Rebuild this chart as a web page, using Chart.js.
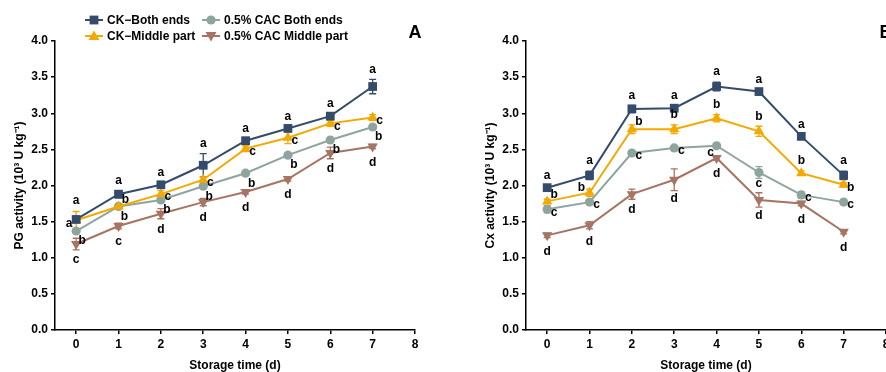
<!DOCTYPE html>
<html>
<head>
<meta charset="utf-8">
<script src="https://cdn.jsdelivr.net/npm/chart.js@4/dist/chart.umd.min.js"></script>
<style>
  html, body { margin: 0; padding: 0; background: #fff; overflow: hidden; }
  #wrap { position: relative; width: 886px; height: 372px; overflow: hidden; }
  canvas { position: absolute; top: 0; }
  #pgChart { left: 0; }
  #cxChart { left: 471px; }
</style>
</head>
<body>
<div id="wrap">
  <canvas id="pgChart" width="471" height="372"></canvas>
  <canvas id="cxChart" width="471" height="372"></canvas>
</div>
<script>
// storage days and axis ticks
const days = [0, 1, 2, 3, 4, 5, 6, 7];
const xTicks = [0, 1, 2, 3, 4, 5, 6, 7, 8];
const yTicks = [0, 0.5, 1, 1.5, 2, 2.5, 3, 3.5, 4];
const seriesNames = ['CK\u2212Both ends', 'CK\u2212Middle part', '0.5% CAC Both ends', '0.5% CAC Middle part'];

// A: PG activity
const pgCkBoth   = [1.53, 1.88, 2.01, 2.28, 2.62, 2.79, 2.96, 3.37];
const pgCkMid    = [1.52, 1.71, 1.88, 2.08, 2.51, 2.66, 2.86, 2.94];
const pgCacBoth  = [1.37, 1.71, 1.80, 1.99, 2.17, 2.42, 2.63, 2.81];
const pgCacMid   = [1.19, 1.44, 1.61, 1.77, 1.91, 2.09, 2.45, 2.54];
const pgErrCkBoth  = [0.04, 0.05, 0.03, 0.16, 0.03, 0.03, 0.03, 0.10];
const pgErrCkMid   = [0.12, 0.04, 0.05, 0.04, 0.04, 0.08, 0.04, 0.04];
const pgErrCacBoth = [0.03, 0.03, 0.03, 0.03, 0.02, 0.03, 0.02, 0.02];
const pgErrCacMid  = [0.08, 0.04, 0.07, 0.05, 0.03, 0.03, 0.08, 0.03];
const pgLetCkBoth  = ['a', 'a', 'a', 'a', 'a', 'a', 'a', 'a'];
const pgLetCkMid   = ['a', 'b', 'c', 'c', 'c', 'c', 'c', 'c'];
const pgLetCacBoth = ['b', 'b', 'b', 'b', 'b', 'b', 'b', 'b'];
const pgLetCacMid  = ['c', 'c', 'd', 'd', 'd', 'd', 'd', 'd'];

// B: Cx activity
const cxCkBoth   = [1.97, 2.14, 3.06, 3.07, 3.37, 3.30, 2.68, 2.14];
const cxCkMid    = [1.78, 1.90, 2.78, 2.78, 2.93, 2.75, 2.17, 2.01];
const cxCacBoth  = [1.67, 1.77, 2.45, 2.52, 2.55, 2.18, 1.87, 1.77];
const cxCacMid   = [1.31, 1.45, 1.88, 2.08, 2.38, 1.80, 1.75, 1.36];
const cxErrCkBoth  = [0.03, 0.06, 0.05, 0.03, 0.06, 0.03, 0.03, 0.06];
const cxErrCkMid   = [0.03, 0.05, 0.06, 0.06, 0.05, 0.07, 0.03, 0.03];
const cxErrCacBoth = [0.05, 0.03, 0.03, 0.03, 0.03, 0.08, 0.04, 0.03];
const cxErrCacMid  = [0.03, 0.05, 0.07, 0.15, 0.03, 0.10, 0.03, 0.03];
const cxLetCkBoth  = ['a', 'a', 'a', 'a', 'a', 'a', 'a', 'a'];
const cxLetCkMid   = ['b', 'b', 'b', 'b', 'b', 'b', 'b', 'b'];
const cxLetCacBoth = ['c', 'c', 'c', 'c', 'c', 'c', 'c', 'c'];
const cxLetCacMid  = ['d', 'd', 'd', 'd', 'd', 'd', 'd', 'd'];

// where each letter sits relative to its point (layout only)
const pgLetterPos = [
  ['uu', 'u', 'u', 'u', 'u', 'u', 'u', 'u'],
  ['l', 'ru', 'r', 'r', 'r', 'r', 'r', 'r'],
  ['rd', 'rd', 'rd', 'rd', 'rd', 'rd', 'rd', 'rd'],
  ['d', 'd', 'd', 'd', 'd', 'd', 'd', 'd']
];
const cxLetterPos = [
  ['u', 'u', 'u', 'u', 'u', 'u', 'u', 'u'],
  ['ru', 'lu', 'ru', 'u', 'u', 'u', 'u', 'r'],
  ['r', 'r', 'r', 'r', 'dl', 'ds', 'r', 'r'],
  ['d', 'd', 'd', 'd', 'd', 'd', 'd', 'd']
];

const colors = ['#344b6b', '#f2a900', '#8ea59f', '#a67462'];
const shapes = [
  { style: 'rect', rot: 0, r: 6.2 },
  { style: 'triangle', rot: 0, r: 6 },
  { style: 'circle', rot: 0, r: 4.6 },
  { style: 'triangle', rot: 180, r: 6 }
];
const FONT = '"Liberation Sans", Arial, sans-serif';

const errorBars = {
  id: 'errorBars',
  beforeDatasetsDraw(chart) {
    const { ctx, scales: { x, y } } = chart;
    ctx.save();
    ctx.lineWidth = 1.3;
    chart.data.datasets.forEach(ds => {
      ctx.strokeStyle = ds.borderColor;
      ds.data.forEach((p, j) => {
        const e = ds.errors[j];
        const px = x.getPixelForValue(p.x);
        const top = y.getPixelForValue(p.y + e);
        const bot = y.getPixelForValue(p.y - e);
        ctx.beginPath();
        ctx.moveTo(px, top); ctx.lineTo(px, bot);
        ctx.moveTo(px - 3.5, top); ctx.lineTo(px + 3.5, top);
        ctx.moveTo(px - 3.5, bot); ctx.lineTo(px + 3.5, bot);
        ctx.stroke();
      });
    });
    ctx.restore();
  }
};

const sigLetters = {
  id: 'sigLetters',
  afterDatasetsDraw(chart) {
    const { ctx, scales: { x, y } } = chart;
    ctx.save();
    ctx.font = 'bold 12px ' + FONT;
    ctx.fillStyle = '#000';
    ctx.textAlign = 'center';
    ctx.textBaseline = 'middle';
    chart.data.datasets.forEach(ds => {
      ds.data.forEach((p, j) => {
        const px = x.getPixelForValue(p.x);
        const py = y.getPixelForValue(p.y);
        const ep = py - y.getPixelForValue(p.y + ds.errors[j]);
        let cx = px, cy = py;
        switch (ds.letterPos[j]) {
          case 'u': cy = py - Math.max(12, ep + 10); break;
          case 'uu': cy = py - 19; break;
          case 'd': cy = py + Math.max(16, ep + 8); break;
          case 'ds': cy = py + 11; break;
          case 'r': cx = px + 7; cy = py + 3; break;
          case 'ru': cx = px + 7; cy = py - 7; break;
          case 'rd': cx = px + 6; cy = py + 10; break;
          case 'l': cx = px - 7; cy = py + 4; break;
          case 'lu': cx = px - 8; cy = py - 5; break;
          case 'dl': cx = px - 6; cy = py + 7; break;
        }
        ctx.fillText(ds.letters[j], cx, cy);
      });
    });
    ctx.restore();
  }
};

function drawMarker(ctx, i, x, y) {
  const s = shapes[i];
  ctx.fillStyle = colors[i];
  ctx.beginPath();
  if (s.style === 'rect') {
    ctx.rect(x - 4.4, y - 4.4, 8.8, 8.8);
  } else if (s.style === 'circle') {
    ctx.arc(x, y, s.r, 0, Math.PI * 2);
  } else {
    const d = s.rot ? -1 : 1;
    ctx.moveTo(x, y - d * 5.5);
    ctx.lineTo(x + 5.5, y + d * 4);
    ctx.lineTo(x - 5.5, y + d * 4);
    ctx.closePath();
  }
  ctx.fill();
}

const panelDecor = {
  id: 'panelDecor',
  afterDraw(chart, args, opts) {
    const ctx = chart.ctx;
    ctx.save();
    ctx.fillStyle = '#000';
    ctx.font = 'bold 18px ' + FONT;
    ctx.textAlign = 'center';
    ctx.textBaseline = 'middle';
    ctx.fillText(opts.tag, 415, 33);
    if (opts.legend) {
      // two rows, two columns
      const slots = [[85, 20], [85, 36], [202, 20], [202, 36]];
      ctx.font = 'bold 12px ' + FONT;
      ctx.textAlign = 'left';
      seriesNames.forEach((name, i) => {
        const [lx, ly] = slots[i];
        ctx.strokeStyle = colors[i];
        ctx.lineWidth = 2;
        ctx.beginPath();
        ctx.moveTo(lx, ly); ctx.lineTo(lx + 18, ly);
        ctx.stroke();
        drawMarker(ctx, i, lx + 9, ly);
        ctx.fillStyle = '#000';
        ctx.fillText(name, lx + 22, ly + 1);
      });
    }
    ctx.restore();
  }
};

function makeChart(id, yTitle, series, errors, letters, letterPos, tag, legend) {
  return new Chart(document.getElementById(id), {
    type: 'line',
    data: {
      datasets: series.map((vals, i) => ({
        label: seriesNames[i],
        data: days.map((d, j) => ({ x: d, y: vals[j] })),
        borderColor: colors[i],
        backgroundColor: colors[i],
        borderWidth: 2,
        tension: 0,
        pointStyle: shapes[i].style,
        pointRotation: shapes[i].rot,
        pointRadius: shapes[i].r,
        pointBorderWidth: 0,
        errors: errors[i],
        letters: letters[i],
        letterPos: letterPos[i]
      }))
    },
    options: {
      responsive: false,
      animation: false,
      layout: { padding: { top: 41, right: 56, left: 0, bottom: 0 } },
      plugins: {
        legend: { display: false },
        tooltip: { enabled: false },
        panelDecor: { tag: tag, legend: legend }
      },
      scales: {
        x: {
          type: 'linear', min: -0.5, max: 8,
          afterBuildTicks: s => { s.ticks = xTicks.map(v => ({ value: v })); },
          afterFit: s => { s.height = 42; },
          grid: { drawOnChartArea: false, drawTicks: true, tickLength: 4, color: '#000', lineWidth: 1.5 },
          border: { color: '#000', width: 1.5 },
          ticks: { color: '#000', padding: 3, maxRotation: 0, font: { family: FONT, size: 12, weight: 'bold' } },
          title: { display: true, text: 'Storage time (d)', color: '#000', padding: { top: 0, bottom: 0 },
                   font: { family: FONT, size: 12, weight: 'bold', lineHeight: 1.1 } }
        },
        y: {
          min: 0, max: 4,
          afterBuildTicks: s => { s.ticks = yTicks.map(v => ({ value: v })); },
          afterFit: s => { s.width = 55; },
          grid: { drawOnChartArea: false, drawTicks: true, tickLength: 4, color: '#000', lineWidth: 1.5 },
          border: { color: '#000', width: 1.5 },
          ticks: { color: '#000', padding: 3, callback: v => v.toFixed(1), font: { family: FONT, size: 12, weight: 'bold' } },
          title: { display: true, text: yTitle, color: '#000', padding: { top: 13, bottom: 0 },
                   font: { family: FONT, size: 12, weight: 'bold', lineHeight: 1.1 } }
        }
      }
    },
    plugins: [errorBars, sigLetters, panelDecor]
  });
}

makeChart('pgChart', 'PG activity (10\u00b3 U kg\u207b\u00b9)',
  [pgCkBoth, pgCkMid, pgCacBoth, pgCacMid],
  [pgErrCkBoth, pgErrCkMid, pgErrCacBoth, pgErrCacMid],
  [pgLetCkBoth, pgLetCkMid, pgLetCacBoth, pgLetCacMid],
  pgLetterPos, 'A', true);

makeChart('cxChart', 'Cx activity (10\u00b3 U kg\u207b\u00b9)',
  [cxCkBoth, cxCkMid, cxCacBoth, cxCacMid],
  [cxErrCkBoth, cxErrCkMid, cxErrCacBoth, cxErrCacMid],
  [cxLetCkBoth, cxLetCkMid, cxLetCacBoth, cxLetCacMid],
  cxLetterPos, 'B', false);
</script>
</body>
</html>
